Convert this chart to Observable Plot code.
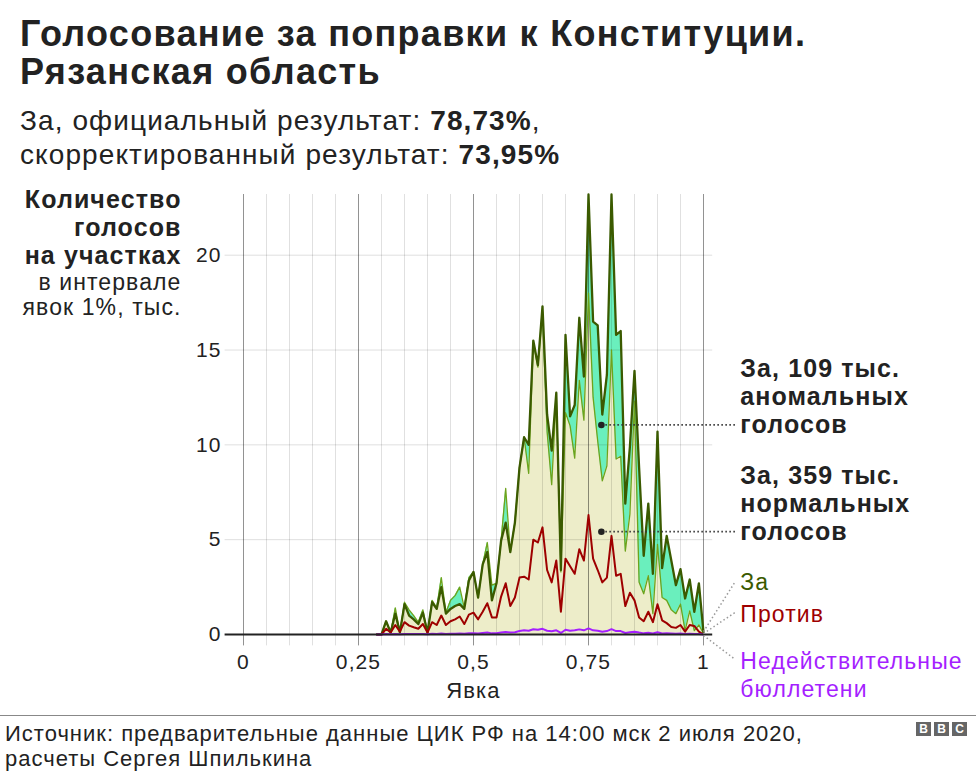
<!DOCTYPE html>
<html>
<head>
<meta charset="utf-8">
<script src="https://cdn.jsdelivr.net/npm/d3@7"></script>
<script src="https://cdn.jsdelivr.net/npm/@observablehq/plot@0.6"></script>
<style>
  body { margin: 0; background: #fff; font-family: "Liberation Sans", Arial, sans-serif; color: #222; }
  #wrap { position: relative; width: 976px; height: 780px; overflow: hidden; }
  .abs { position: absolute; white-space: nowrap; }
  #title { left: 20px; top: 15px; font-size: 36px; line-height: 38px; font-weight: bold; color: #222; letter-spacing: 1.3px; }
  #sub { left: 20px; top: 104px; font-size: 28px; line-height: 34px; color: #222; letter-spacing: 1.1px; }
  #chart { left: 0; top: 175px; }
  #chart svg text { letter-spacing: 1.1px; }
  #footline { left: 0; top: 715px; width: 976px; height: 0; border-top: 1px solid #888; }
  #foot { left: 5px; top: 721px; font-size: 22px; line-height: 25px; color: #222; letter-spacing: 1px; }
  #bbc { left: 916px; top: 722px; display: flex; gap: 3px; }
  #bbc span { display: inline-block; width: 15px; height: 14px; background: #666; color: #fff; font-weight: bold; font-size: 12px; line-height: 14px; text-align: center; }
</style>
</head>
<body>
<div id="wrap">
  <div id="title" class="abs">Голосование за поправки к Конституции.<br>Рязанская область</div>
  <div id="sub" class="abs">За, официальный результат: <b>78,73%</b>,<br>скорректированный результат: <b>73,95%</b></div>
  <div id="chart" class="abs"></div>
  <div id="footline" class="abs"></div>
  <div id="foot" class="abs">Источник: предварительные данные ЦИК РФ на 14:00 мск 2 июля 2020,<br>расчеты Сергея Шпилькина</div>
  <div id="bbc" class="abs"><span>B</span><span>B</span><span>C</span></div>
</div>
<script>
// Turnout bins (1%)
const turnout = [0.29,0.30,0.31,0.32,0.33,0.34,0.35,0.36,0.37,0.38,0.39,0.40,0.41,0.42,0.43,0.44,0.45,0.46,0.47,0.48,0.49,0.50,0.51,0.52,0.53,0.54,0.55,0.56,0.57,0.58,0.59,0.60,0.61,0.62,0.63,0.64,0.65,0.66,0.67,0.68,0.69,0.70,0.71,0.72,0.73,0.74,0.75,0.76,0.77,0.78,0.79,0.80,0.81,0.82,0.83,0.84,0.85,0.86,0.87,0.88,0.89,0.90,0.91,0.92,0.93,0.94,0.95,0.96,0.97,0.98,0.99,1.00];
// "За", official, thousands of votes
const zaOfficial = [0,0,0.7,0.1,1.1,0.1,1.6,1.0,0.8,0.55,1.15,0.1,1.7,1.35,2.5,1.1,1.35,1.5,1.6,1.35,2.85,3.3,1.95,3.7,4.35,1.8,2.7,4.95,5.9,4.35,5.9,8.8,10.4,10.0,15.5,14.2,17.3,11.6,9.7,12.75,3.4,15.8,11.5,12.1,16.7,13.6,23.2,16.5,16.3,11.6,13.7,23.2,15.8,16.0,6.9,9.9,13.9,8.8,4.15,6.9,3.2,10.7,3.5,5.2,3.9,2.6,3.45,1.9,2.9,1.2,2.7,0.1];
// "За", normal (corrected)
const zaNormal = [0,0,0.7,0.1,1.4,0.1,1.7,1.3,1.0,0.65,1.3,0.1,1.8,1.4,3.0,1.15,1.8,2.05,2.5,1.4,3.0,3.3,1.95,3.7,4.85,2.6,2.7,4.95,7.7,4.35,5.9,8.8,10.4,8.5,15.4,14.1,17.0,10.7,7.9,12.6,3.3,11.7,11.0,9.3,13.4,11.3,18.0,12.5,10.2,8.1,8.9,15.0,9.25,9.4,4.4,6.35,12.3,2.75,2.15,3.1,1.1,4.75,1.95,1.8,1.3,1.1,1.6,0.2,1.25,0.2,0.5,0.05];
// "Против"
const protiv = [0,0,0.3,0.1,0.5,0.15,0.65,0.47,0.38,0.3,0.55,0.1,0.65,0.5,1.0,0.5,0.7,0.8,0.95,0.55,1.05,1.15,0.8,1.2,1.65,0.9,0.9,2.0,2.7,1.5,1.95,3.0,3.05,2.9,5.0,4.85,5.65,3.4,2.75,3.9,1.2,4.0,3.6,3.2,4.5,3.9,6.3,4.0,3.4,2.75,3.0,5.2,3.1,3.2,1.5,2.2,1.8,0.9,0.7,1.2,0.65,1.6,0.75,0.6,0.4,0.35,0.5,0.15,0.5,0.45,0.15,0];
// "Недействительные бюллетени"
const invalid = [0,0,0.02,0.01,0.03,0.01,0.03,0.03,0.02,0.02,0.03,0.01,0.04,0.03,0.05,0.03,0.04,0.04,0.05,0.04,0.06,0.07,0.05,0.08,0.1,0.06,0.07,0.1,0.13,0.1,0.12,0.18,0.22,0.2,0.28,0.25,0.3,0.2,0.17,0.22,0.08,0.25,0.2,0.22,0.27,0.22,0.32,0.22,0.2,0.15,0.18,0.28,0.18,0.18,0.08,0.12,0.15,0.1,0.06,0.09,0.05,0.12,0.05,0.06,0.05,0.04,0.05,0.03,0.04,0.02,0.03,0];

const xTicks = [0, 0.25, 0.5, 0.75, 1];
const xTickLabels = ["0", "0,25", "0,5", "0,75", "1"];
const yTicks = [0, 5, 10, 15, 20];
const minorGrid = [0,0.05,0.1,0.15,0.2,0.25,0.3,0.35,0.4,0.45,0.5,0.55,0.6,0.65,0.7,0.75,0.8,0.85,0.9,0.95,1];

const data = turnout.map((t, i) => ({t, za: zaOfficial[i], normal: zaNormal[i], protiv: protiv[i], invalid: invalid[i]}));

// annotations
const calloutPoints = [
  {x: 0.778, y: 11.05, text: "За, 109 тыс.\nаномальных\nголосов"},
  {x: 0.778, y: 5.42, text: "За, 359 тыс.\nнормальных\nголосов"}
];
const legendItems = [
  {text: "За", color: "#3b5a00", y: 2.8, fromY: 0.15},
  {text: "Против", color: "#9e0000", y: 1.1, fromY: 0.05},
  {text: "Недействительные\nбюллетени", color: "#a51fff", y: -2.1, fromY: -0.05}
];
const legendLinkEnds = [2.75, 1.15, -1.3];

const DARK = "#3b5a00", LIGHT = "#6ea31c", TURQ = "#6aefbd", YEL = "#ededc9";

const chart = Plot.plot({
  width: 976,
  height: 540,
  marginLeft: 243,
  marginRight: 273,
  marginTop: 19,
  marginBottom: 81,
  style: {fontFamily: '"Liberation Sans", Arial, sans-serif', color: "#222", background: "transparent", overflow: "visible"},
  x: {domain: [0, 1], axis: null},
  y: {domain: [0, 23.2], axis: null},
  marks: [
    Plot.areaY(data, {x: "t", y1: 0, y2: "normal", fill: YEL}),
    Plot.areaY(data, {x: "t", y1: "normal", y2: "za", fill: TURQ}),
    // grid
    Plot.ruleX(minorGrid, {x: d => d, y1: -0.6, y2: 23.2, stroke: "#000", strokeOpacity: 0.12, strokeWidth: 1}),
    Plot.ruleX(xTicks, {x: d => d, y1: -0.6, y2: 23.2, stroke: "#000", strokeOpacity: 0.35, strokeWidth: 1}),
    Plot.ruleY(yTicks.filter(d => d > 0), {y: d => d, x1: -0.04, x2: 1.02, stroke: "#000", strokeOpacity: 0.13}),
    // lines
    Plot.lineY(data, {x: "t", y: "normal", stroke: LIGHT, strokeWidth: 1.3}),
    Plot.lineY(data, {x: "t", y: "za", stroke: DARK, strokeWidth: 2.3}),
    Plot.lineY(data, {x: "t", y: "protiv", stroke: "#9e0000", strokeWidth: 2}),
    Plot.lineY(data, {x: "t", y: "invalid", stroke: "#a51fff", strokeWidth: 2}),
    // baseline
    Plot.ruleY([0], {x1: -0.04, x2: 1.02, stroke: "#222", strokeWidth: 2}),
    // tick labels
    Plot.text(xTicks, {x: d => d, y: 0, text: (d, i) => xTickLabels[i], dy: 28, fontSize: 21, fill: "#222"}),
    Plot.text(["Явка"], {x: 0.5, y: 0, text: d => d, dy: 56, fontSize: 22, fill: "#222"}),
    Plot.text(yTicks, {x: 0, y: d => d, text: d => String(d), dx: -22, textAnchor: "end", fontSize: 21, fill: "#222"}),
    // y label
    Plot.text(["Количество\nголосов\nна участках"], {frameAnchor: "top-left", text: d => d, dx: -62, dy: -6, textAnchor: "end", lineAnchor: "top", fontSize: 25, fontWeight: "bold", lineHeight: 1.11, fill: "#222"}),
    Plot.text(["в интервале\nявок 1%, тыс."], {frameAnchor: "top-left", text: d => d, dx: -62, dy: 78, textAnchor: "end", lineAnchor: "top", fontSize: 23, lineHeight: 1.09, fill: "#222"}),
    // callouts
    Plot.link(calloutPoints, {x1: "x", y1: "y", x2: 1.073, y2: "y", stroke: "#333", strokeWidth: 1.8, strokeDasharray: "1.5,2.5"}),
    Plot.dot(calloutPoints, {x: "x", y: "y", r: 3.3, fill: "#222"}),
    Plot.text(calloutPoints, {x: 1.08, y: "y", text: "text", textAnchor: "start", lineAnchor: "bottom", dy: 8, fontSize: 25, fontWeight: "bold", lineHeight: 1.12, fill: "#222"}),
    // legend connectors and labels
    Plot.link(legendItems, {x1: 1.0, y1: "fromY", x2: 1.068, y2: (d, i) => legendLinkEnds[i], stroke: "#999", strokeWidth: 1.5, strokeDasharray: "1.5,2.5"}),
    Plot.text(legendItems, {x: 1.08, y: "y", text: "text", fill: "color", textAnchor: "start", lineAnchor: "middle", fontSize: 23, lineHeight: 1.18})
  ]
});
document.getElementById("chart").appendChild(chart);
</script>
</body>
</html>
